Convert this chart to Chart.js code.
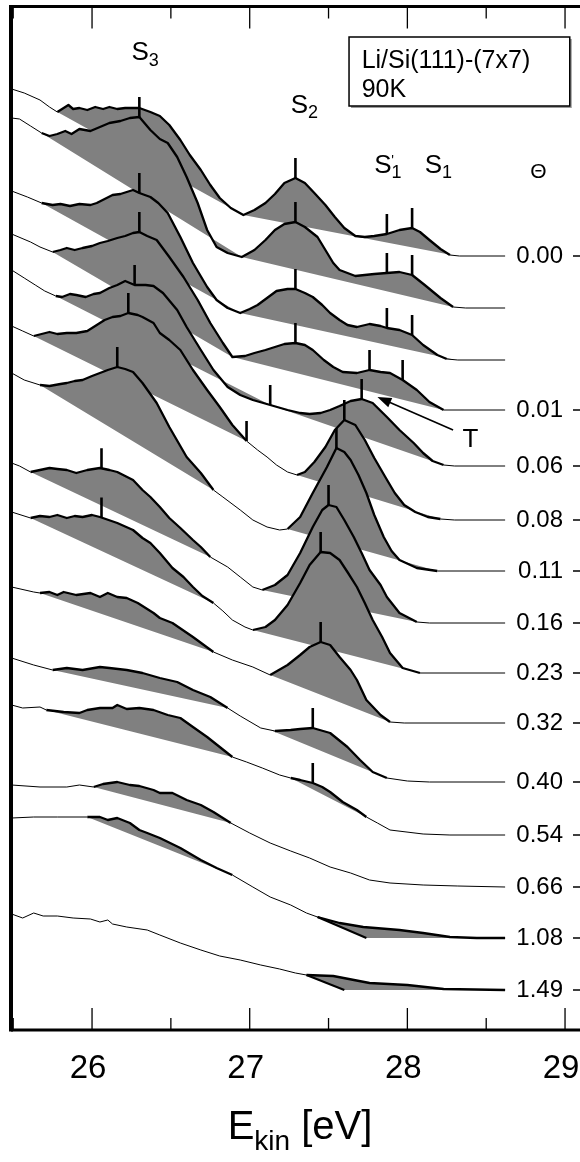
<!DOCTYPE html>
<html>
<head>
<meta charset="utf-8">
<script src="https://cdn.jsdelivr.net/npm/chart.js@4.4.1/dist/chart.umd.min.js"></script>
<style>
html,body{margin:0;padding:0;background:#fff;overflow:hidden;}
#wrap{position:relative;width:600px;height:1162px;}
canvas{display:block;}
</style>
</head>
<body>
<div id="wrap"><canvas id="c" width="600" height="1162"></canvas></div>
<script>
// ---------- DATA (energy in eV, intensity in arbitrary units above each curve's baseline) ----------
const spectrumOffsets = [774, 722, 670, 620, 564, 510, 459, 407, 357, 307, 248, 195, 143, 92, 40];
const thetaLabels = ['0.00', '', '', '0.01', '0.06', '0.08', '0.11', '0.16', '0.23', '0.32', '0.40', '0.54', '0.66', '1.08', '1.49'];
const xMajorTicks = [26, 27, 28, 29];
const xMinorTicks = [25.5, 26.5, 27.5, 28.5];
const xTickLabels = ['26', '27', '28', '29'];

const sp_000 = [[25.49,167],[25.57,163],[25.67,156],[25.73,149],[25.78,144],[25.82,148],[25.85,151],[25.88,147],[25.92,148],[25.97,146],[26.02,149],[26.07,147],[26.11,149],[26.16,147],[26.21,148],[26.26,148],[26.30,148],[26.37,144],[26.43,140],[26.49,131],[26.56,116],[26.62,101],[26.69,86],[26.75,71],[26.81,58],[26.88,48],[26.96,41],[27.03,46],[27.10,53],[27.16,62],[27.22,73],[27.29,78],[27.35,73],[27.41,63],[27.48,51],[27.54,39],[27.60,28],[27.67,20],[27.73,19],[27.79,20],[27.87,22],[27.95,26],[28.03,28],[28.08,24],[28.14,16],[28.21,7],[28.27,1],[28.33,0],[28.62,0]];
const sp_000b = [[25.49,190],[25.54,189],[25.61,182],[25.68,175],[25.73,172],[25.78,174],[25.83,177],[25.87,174],[25.92,179],[25.99,177],[26.05,181],[26.11,185],[26.18,187],[26.24,190],[26.30,191],[26.37,178],[26.43,169],[26.48,165],[26.54,151],[26.60,131],[26.67,105],[26.73,78],[26.79,61],[26.86,55],[26.95,51],[27.03,58],[27.10,68],[27.16,78],[27.22,84],[27.29,86],[27.35,81],[27.43,71],[27.48,58],[27.53,45],[27.57,38],[27.62,35],[27.67,32],[27.73,33],[27.79,34],[27.87,35],[27.95,36],[28.03,33],[28.11,23],[28.21,10],[28.29,1],[28.37,0],[28.62,0]];
const sp_000c = [[25.49,169],[25.59,163],[25.68,157],[25.75,155],[25.80,156],[25.86,154],[25.92,156],[25.99,155],[26.03,157],[26.08,161],[26.13,165],[26.18,166],[26.22,168],[26.26,170],[26.30,167],[26.37,163],[26.42,157],[26.48,147],[26.56,123],[26.64,97],[26.73,73],[26.79,60],[26.86,52],[26.94,47],[27.00,51],[27.05,55],[27.11,62],[27.17,69],[27.24,71],[27.29,71],[27.35,67],[27.40,63],[27.46,55],[27.51,47],[27.57,40],[27.62,35],[27.68,33],[27.76,36],[27.83,34],[27.87,32],[27.95,30],[28.03,25],[28.10,15],[28.19,5],[28.25,1],[28.32,0],[28.62,0]];
const sp_001 = [[25.49,176],[25.61,168],[25.67,163],[25.75,158],[25.80,160],[25.84,162],[25.89,160],[25.94,162],[26.00,164],[26.05,167],[26.10,169],[26.16,172],[26.21,174],[26.26,177],[26.30,178],[26.35,174],[26.41,170],[26.49,153],[26.58,133],[26.67,110],[26.75,87],[26.83,67],[26.89,53],[26.97,54],[27.03,57],[27.10,60],[27.16,63],[27.22,66],[27.29,67],[27.35,65],[27.40,60],[27.47,50],[27.53,43],[27.59,38],[27.68,37],[27.76,40],[27.83,38],[27.89,37],[27.97,30],[28.06,20],[28.14,8],[28.23,0],[28.62,0]];
const sp_006 = [[25.49,196],[25.57,188],[25.64,181],[25.70,175],[25.77,170],[25.81,169],[25.86,172],[25.90,171],[25.96,169],[26.01,172],[26.05,173],[26.11,178],[26.16,181],[26.21,185],[26.27,181],[26.34,181],[26.39,180],[26.45,173],[26.54,156],[26.60,139],[26.69,116],[26.77,96],[26.86,79],[26.94,71],[27.02,66],[27.13,61],[27.24,56],[27.32,53],[27.38,52],[27.45,53],[27.51,56],[27.57,60],[27.64,65],[27.71,67],[27.78,63],[27.87,49],[27.95,36],[28.04,23],[28.10,13],[28.16,5],[28.23,1],[28.30,0],[28.62,0]];
const sp_008 = [[25.49,194],[25.56,189],[25.63,184],[25.68,186],[25.73,188],[25.78,186],[25.84,187],[25.90,187],[25.97,189],[26.03,195],[26.08,200],[26.13,203],[26.18,204],[26.23,207],[26.29,205],[26.32,203],[26.39,197],[26.43,187],[26.49,180],[26.56,170],[26.64,150],[26.73,130],[26.81,113],[26.89,95],[26.98,79],[27.05,70],[27.11,63],[27.17,55],[27.24,48],[27.30,45],[27.35,48],[27.41,58],[27.48,73],[27.54,90],[27.60,100],[27.67,95],[27.73,80],[27.79,62],[27.86,43],[27.92,27],[27.98,15],[28.05,8],[28.13,3],[28.21,1],[28.30,0],[28.62,0]];
const sp_011 = [[25.49,198],[25.57,191],[25.67,186],[25.73,185],[25.80,187],[25.84,188],[25.89,190],[25.94,191],[26.00,195],[26.05,198],[26.10,201],[26.16,204],[26.21,202],[26.26,199],[26.32,188],[26.41,168],[26.49,144],[26.60,114],[26.69,98],[26.77,81],[26.83,74],[26.94,61],[27.02,51],[27.11,44],[27.19,41],[27.24,42],[27.32,54],[27.40,78],[27.49,104],[27.55,123],[27.60,119],[27.64,111],[27.69,96],[27.74,78],[27.79,56],[27.85,34],[27.90,20],[27.95,11],[28.06,3],[28.19,0],[28.62,0]];
const sp_016 = [[25.49,160],[25.54,157],[25.61,151],[25.67,153],[25.73,155],[25.78,154],[25.84,153],[25.90,150],[25.97,153],[26.05,155],[26.11,153],[26.16,151],[26.21,147],[26.26,143],[26.32,133],[26.37,126],[26.43,116],[26.49,105],[26.56,95],[26.64,83],[26.69,76],[26.75,66],[26.86,56],[26.94,46],[27.02,36],[27.08,33],[27.16,38],[27.24,48],[27.32,70],[27.40,96],[27.46,113],[27.50,118],[27.55,116],[27.60,103],[27.66,86],[27.71,70],[27.76,53],[27.83,38],[27.87,26],[27.95,10],[28.06,1],[28.14,0],[28.62,0]];
const sp_023 = [[25.49,161],[25.61,155],[25.67,157],[25.73,156],[25.78,158],[25.84,155],[25.89,157],[25.94,156],[26.00,158],[26.05,156],[26.16,150],[26.26,143],[26.32,135],[26.37,130],[26.43,120],[26.51,105],[26.58,96],[26.64,86],[26.70,77],[26.77,70],[26.83,62],[26.89,53],[26.97,46],[27.02,43],[27.10,46],[27.16,53],[27.24,68],[27.32,90],[27.38,108],[27.45,121],[27.51,120],[27.57,113],[27.62,101],[27.68,86],[27.73,70],[27.78,53],[27.84,36],[27.89,20],[27.97,5],[28.08,0],[28.62,0]];
const sp_032 = [[25.49,136],[25.63,131],[25.67,130],[25.73,131],[25.78,128],[25.82,131],[25.90,128],[25.99,130],[26.05,126],[26.10,130],[26.16,126],[26.22,125],[26.29,120],[26.39,110],[26.43,105],[26.51,100],[26.64,86],[26.77,71],[26.89,63],[27.02,56],[27.13,48],[27.24,58],[27.32,68],[27.38,76],[27.45,81],[27.51,78],[27.57,66],[27.64,53],[27.68,43],[27.74,23],[27.83,8],[27.89,1],[27.98,0],[28.62,0]];
const sp_040 = [[25.49,124],[25.63,117],[25.75,112],[25.84,114],[25.94,112],[26.05,115],[26.11,114],[26.22,112],[26.32,109],[26.43,104],[26.54,100],[26.64,92],[26.75,85],[26.86,74],[26.94,66],[27.07,54],[27.16,51],[27.26,52],[27.32,53],[27.40,54],[27.51,49],[27.62,35],[27.70,22],[27.78,10],[27.87,4],[28.00,1],[28.14,0],[28.62,0]];
const sp_054 = [[25.49,130],[25.56,127],[25.67,128],[25.71,125],[25.82,123],[25.92,122],[25.97,125],[26.05,127],[26.13,127],[26.16,130],[26.22,126],[26.30,127],[26.39,125],[26.48,120],[26.56,117],[26.64,108],[26.73,98],[26.81,88],[26.89,78],[26.98,73],[27.08,67],[27.19,60],[27.26,57],[27.32,55],[27.40,52],[27.46,48],[27.51,43],[27.59,33],[27.68,25],[27.74,18],[27.81,12],[27.89,5],[28.10,1],[28.27,0],[28.62,0]];
const sp_066 = [[25.49,102],[25.67,100],[25.84,100],[25.92,102],[26.01,100],[26.07,103],[26.16,105],[26.24,102],[26.30,101],[26.39,97],[26.43,94],[26.51,94],[26.60,87],[26.69,82],[26.77,75],[26.88,64],[27.00,54],[27.13,44],[27.26,36],[27.38,29],[27.51,20],[27.64,14],[27.76,7],[27.89,4],[28.10,2],[28.32,1],[28.62,0]];
const sp_108 = [[25.49,120],[25.63,121],[25.78,121],[25.97,121],[26.05,121],[26.10,118],[26.16,120],[26.24,115],[26.30,108],[26.35,105],[26.43,100],[26.56,90],[26.69,78],[26.79,70],[26.89,63],[27.02,51],[27.13,41],[27.26,33],[27.36,25],[27.43,21],[27.57,15],[27.72,11],[27.95,8],[28.10,5],[28.27,1],[28.44,0],[28.62,0]];
const sp_149 = [[25.49,76],[25.56,72],[25.63,77],[25.69,74],[25.78,74],[25.88,72],[25.99,71],[26.05,68],[26.10,70],[26.13,66],[26.22,63],[26.35,60],[26.43,55],[26.56,47],[26.69,40],[26.81,34],[26.94,30],[27.07,25],[27.19,21],[27.29,17],[27.36,15],[27.53,14],[27.76,7],[28.00,5],[28.23,1],[28.62,0]];

// shaded peak ranges (eV) per spectrum
const bd_000 = [[25.78,26.96],[26.96,28.29]];
const bd_000b = [[25.68,26.95],[26.95,28.29]];
const bd_000c = [[25.68,26.94],[26.94,28.30]];
const bd_001 = [[25.75,26.89],[26.89,28.23]];
const bd_006 = [[25.77,27.13],[27.13,28.23]];
const bd_008 = [[25.63,26.98],[27.30,28.21]];
const bd_011 = [[25.67,26.77],[27.24,28.19]];
const bd_016 = [[25.61,26.75],[27.08,28.06]];
const bd_023 = [[25.61,26.77],[27.02,28.08]];
const bd_032 = [[25.67,26.77],[27.13,27.89]];
const bd_040 = [[25.75,26.86],[27.13,27.87]];
const bd_054 = [[25.71,26.89],[27.26,27.74]];
const bd_066 = [[26.01,26.88]];
const bd_108 = [[25.97,26.89],[27.43,28.62]];
const bd_149 = [[27.36,28.62]];
// background corner points (eV, intensity) for ranges whose background is not a single straight chord
const kn_108 = [null, [27.74, 0]];
const kn_149 = [[27.60, 0]];

// peak position markers (eV)
const mk_000 = [27.29, 27.87, 28.03];
const mk_000b = [26.30, 27.29, 27.87, 28.03];
const mk_000c = [26.30, 27.29, 27.87, 28.03];
const mk_001 = [26.30, 27.29, 27.76, 27.97];
const mk_006 = [26.27, 27.13, 27.71];
const mk_008 = [26.23, 26.98, 27.60];
const mk_011 = [26.16, 27.55];
const mk_016 = [26.06, 27.50];
const mk_023 = [26.06, 27.45];
const mk_032 = [27.45];
const mk_040 = [27.40];
const mk_054 = [27.40];
const mk_066 = [];
const mk_108 = [];
const mk_149 = [];

// ---------- BUILD ----------
const spectra = [sp_000, sp_000b, sp_000c, sp_001, sp_006, sp_008, sp_011, sp_016, sp_023, sp_032, sp_040, sp_054, sp_066, sp_108, sp_149];
const bands = [bd_000, bd_000b, bd_000c, bd_001, bd_006, bd_008, bd_011, bd_016, bd_023, bd_032, bd_040, bd_054, bd_066, bd_108, bd_149];
const corners = [[], [], [], [], [], [], [], [], [], [], [], [], [], kn_108, kn_149];
const marks = [mk_000, mk_000b, mk_000c, mk_001, mk_006, mk_008, mk_011, mk_016, mk_023, mk_032, mk_040, mk_054, mk_066, mk_108, mk_149];

function interp(sp, e) {
  for (let k = 1; k < sp.length; k++) {
    if (e <= sp[k][0]) {
      const [e0, c0] = sp[k - 1], [e1, c1] = sp[k];
      return c0 + (c1 - c0) * (e - e0) / (e1 - e0);
    }
  }
  return sp[sp.length - 1][1];
}

const GRAY = '#808080';
const MARK_LEN = 20;
const datasets = [];
spectra.forEach((sp, i) => {
  const off = spectrumOffsets[i];
  const bd = bands[i];
  const inBand = (a, b) => bd.some(([lo, hi]) => a >= lo - 1e-6 && b <= hi + 1e-6);
  datasets.push({
    label: 'Θ = ' + (thetaLabels[i] || '-'),
    data: sp.map(([e, c]) => ({x: e, y: off + c})),
    borderColor: '#000', borderWidth: 1, pointRadius: 0, fill: false, tension: 0,
    borderJoinStyle: 'round',
    segment: {borderWidth: ctx => inBand(ctx.p0.parsed.x, ctx.p1.parsed.x) ? 2.3 : 1},
    order: 2
  });
  bd.forEach(([lo, hi], j) => {
    const poly = [{x: lo, y: off + interp(sp, lo)}];
    sp.forEach(([e, c]) => { if (e > lo + 1e-6 && e < hi - 1e-6) poly.push({x: e, y: off + c}); });
    poly.push({x: hi, y: off + interp(sp, hi)});
    const cn = corners[i][j];
    if (cn) poly.push({x: cn[0], y: off + cn[1]});
    datasets.push({
      data: poly, borderWidth: 1, borderColor: 'rgba(0,0,0,0)', backgroundColor: GRAY,
      fill: 'shape', pointRadius: 0, tension: 0, order: 3
    });
    if (cn) {
      datasets.push({
        data: [poly[0], {x: cn[0], y: off + cn[1]}], borderColor: '#000', borderWidth: 2,
        pointRadius: 0, fill: false, order: 2
      });
    }
  });
  marks[i].forEach(m => {
    const v = off + interp(sp, m);
    datasets.push({
      data: [{x: m, y: v}, {x: m, y: v + MARK_LEN}], borderColor: '#000', borderWidth: 2.6,
      borderCapStyle: 'butt', pointRadius: 0, fill: false, order: 1
    });
  });
});

const thetaTicks = spectrumOffsets.filter((v, i) => thetaLabels[i] !== '');
const FONT = '"Liberation Sans", Arial, Helvetica, sans-serif';

const decor = {
  id: 'decor',
  afterDraw(chart) {
    const {ctx, chartArea: a, scales: {x, y}} = chart;
    const X = v => x.getPixelForValue(v), Y = v => y.getPixelForValue(v);
    ctx.save();
    ctx.strokeStyle = '#000';
    ctx.fillStyle = '#000';
    // frame
    ctx.lineWidth = 3;
    ctx.beginPath();
    ctx.moveTo(a.left, a.top); ctx.lineTo(a.right, a.top);
    ctx.moveTo(a.left, a.bottom); ctx.lineTo(a.right, a.bottom);
    ctx.moveTo(a.right, a.top); ctx.lineTo(a.right, a.bottom);
    ctx.stroke();
    ctx.lineWidth = 4;
    ctx.beginPath(); ctx.moveTo(a.left, a.top - 1.5); ctx.lineTo(a.left, a.bottom + 1.5); ctx.stroke();
    // inward ticks
    ctx.lineWidth = 1.3;
    ctx.beginPath();
    xMajorTicks.forEach(t => { const px = X(t); ctx.moveTo(px, a.top); ctx.lineTo(px, a.top + 22); ctx.moveTo(px, a.bottom); ctx.lineTo(px, a.bottom - 22); });
    xMinorTicks.forEach(t => { const px = X(t); ctx.moveTo(px, a.top); ctx.lineTo(px, a.top + 12); ctx.moveTo(px, a.bottom); ctx.lineTo(px, a.bottom - 12); });
    thetaTicks.forEach(t => { const py = Y(t); ctx.moveTo(a.right, py); ctx.lineTo(a.right - 16, py); });
    ctx.stroke();

    // subscript helper
    const sub = (main, s, px, py, f1, f2, drop) => {
      ctx.font = f1 + 'px ' + FONT; ctx.textAlign = 'left'; ctx.textBaseline = 'alphabetic';
      ctx.fillText(main, px, py);
      const w = ctx.measureText(main).width;
      ctx.font = f2 + 'px ' + FONT;
      ctx.fillText(s, px + w, py + drop);
      return px + w + ctx.measureText(s).width;
    };
    // peak labels
    sub('S', '3', X(26.25), Y(970), 26, 18, 6);
    sub('S', '2', X(27.26), Y(917), 26, 18, 5);
    sub('S', '1', X(27.79), Y(857), 26, 18, 5);
    ctx.font = '14px ' + FONT; ctx.fillText("'", X(27.79) + 17, Y(857) - 8);
    sub('S', '1', X(28.11), Y(857), 26, 18, 5);
    ctx.font = '21px ' + FONT; ctx.textAlign = 'left'; ctx.fillText('Θ', X(28.78), Y(852));
    ctx.font = '26px ' + FONT; ctx.fillText('T', X(28.35), Y(583));
    // arrow to T feature
    const ax0 = X(28.29), ay0 = Y(600), ax1 = X(27.81), ay1 = Y(633);
    const ang = Math.atan2(ay1 - ay0, ax1 - ax0);
    ctx.lineWidth = 1.6;
    ctx.beginPath(); ctx.moveTo(ax0, ay0); ctx.lineTo(ax1 - 10 * Math.cos(ang), ay1 - 10 * Math.sin(ang)); ctx.stroke();
    ctx.beginPath();
    ctx.moveTo(ax1, ay1);
    ctx.lineTo(ax1 - 14 * Math.cos(ang) + 5 * Math.sin(ang), ay1 - 14 * Math.sin(ang) - 5 * Math.cos(ang));
    ctx.lineTo(ax1 - 14 * Math.cos(ang) - 5 * Math.sin(ang), ay1 - 14 * Math.sin(ang) + 5 * Math.cos(ang));
    ctx.closePath(); ctx.fill();
    // sample box (with slight drop shadow)
    const bx0 = X(27.63), bx1 = X(29.03), by0 = Y(993), by1 = Y(924);
    ctx.fillStyle = '#9a9a9a'; ctx.fillRect(bx0 + 2, by0 + 2, bx1 - bx0, by1 - by0);
    ctx.fillStyle = '#fff'; ctx.fillRect(bx0, by0, bx1 - bx0, by1 - by0);
    ctx.fillStyle = '#000';
    ctx.lineWidth = 1.5; ctx.strokeRect(bx0, by0, bx1 - bx0, by1 - by0);
    ctx.font = '25px ' + FONT; ctx.textAlign = 'left';
    ctx.fillText('Li/Si(111)-(7x7)', X(27.71), Y(962));
    ctx.fillText('90K', X(27.71), Y(933));
    // x axis title with subscript
    const F1 = 40, F2 = 28;
    ctx.font = F1 + 'px ' + FONT;
    const wE = ctx.measureText('E').width, wR = ctx.measureText(' [eV]').width;
    ctx.font = F2 + 'px ' + FONT;
    const wK = ctx.measureText('kin').width;
    const cx = (a.left + a.right) / 2;
    let tx = cx - (wE + wK + wR) / 2;
    const ty = 1139;
    ctx.font = F1 + 'px ' + FONT; ctx.fillText('E', tx, ty); tx += wE;
    ctx.font = F2 + 'px ' + FONT; ctx.fillText('kin', tx, ty + 11); tx += wK;
    ctx.font = F1 + 'px ' + FONT; ctx.fillText(' [eV]', tx, ty);
    ctx.restore();
  }
};

const zeroPad = s => { s.paddingLeft = 0; s.paddingRight = 0; s.paddingTop = 0; s.paddingBottom = 0; };

new Chart(document.getElementById('c'), {
  type: 'line',
  data: {datasets},
  options: {
    responsive: false,
    animation: false,
    events: [],
    layout: {padding: {left: 11, top: 6.5, right: 0, bottom: 0}},
    plugins: {legend: {display: false}, tooltip: {enabled: false}, title: {display: false}},
    scales: {
      x: {
        type: 'linear', position: 'bottom', min: 25.486, max: 29.152,
        grid: {display: false, drawTicks: false}, border: {display: false},
        afterBuildTicks: s => { s.ticks = xMajorTicks.map(v => ({value: v})); },
        ticks: {
          autoSkip: false, maxRotation: 0, padding: 19, labelOffset: -4, color: '#000',
          font: {family: FONT, size: 33},
          callback: (v) => xTickLabels[xMajorTicks.indexOf(v)]
        },
        afterFit: s => { s.height = 132; zeroPad(s); }
      },
      y: {type: 'linear', display: false, min: 0, max: 1023.5},
      y2: {
        type: 'linear', position: 'right', min: 0, max: 1023.5,
        grid: {display: false, drawTicks: false}, border: {display: false},
        afterBuildTicks: s => { s.ticks = thetaTicks.map(v => ({value: v})); },
        ticks: {
          mirror: true, padding: -26, autoSkip: false, color: '#000',
          font: {family: FONT, size: 24},
          callback: (v) => thetaLabels[spectrumOffsets.indexOf(v)]
        },
        afterFit: s => { s.width = 11; zeroPad(s); }
      }
    }
  },
  plugins: [decor]
});
</script>
</body>
</html>
